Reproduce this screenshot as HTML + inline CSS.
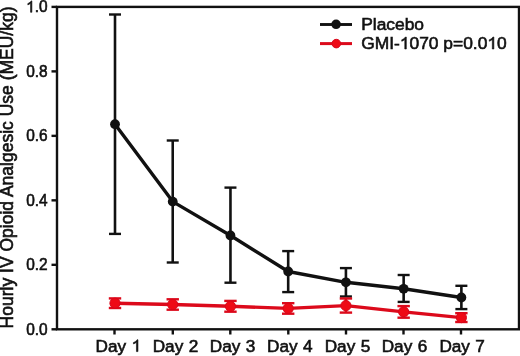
<!DOCTYPE html>
<html><head><meta charset="utf-8"><style>
html,body{margin:0;padding:0;background:#fff;}
svg{display:block;will-change:transform;}
text{font-family:"Liberation Sans",sans-serif;fill:#111;stroke:#111;stroke-width:0.6px;}
.h1{fill:none;stroke:none;}
</style></head><body>
<svg width="520" height="356" viewBox="0 0 520 356">
<rect x="57" y="6.9" width="462" height="322.4" fill="none" stroke="#111" stroke-width="2.4"/>
<line x1="51.5" y1="329.30" x2="57" y2="329.30" stroke="#111" stroke-width="2.4"/>
<text id="t0" font-size="16.6" transform="translate(47.6,334.70) scale(0.93,1)" text-anchor="end">0.0</text>
<line x1="51.5" y1="264.82" x2="57" y2="264.82" stroke="#111" stroke-width="2.4"/>
<text id="t1" font-size="16.6" transform="translate(47.6,270.22) scale(0.93,1)" text-anchor="end">0.2</text>
<line x1="51.5" y1="200.34" x2="57" y2="200.34" stroke="#111" stroke-width="2.4"/>
<text id="t2" font-size="16.6" transform="translate(47.6,205.74) scale(0.93,1)" text-anchor="end">0.4</text>
<line x1="51.5" y1="135.86" x2="57" y2="135.86" stroke="#111" stroke-width="2.4"/>
<text id="t3" font-size="16.6" transform="translate(47.6,141.26) scale(0.93,1)" text-anchor="end">0.6</text>
<line x1="51.5" y1="71.38" x2="57" y2="71.38" stroke="#111" stroke-width="2.4"/>
<text id="t4" font-size="16.6" transform="translate(47.6,76.78) scale(0.93,1)" text-anchor="end">0.8</text>
<line x1="51.5" y1="6.90" x2="57" y2="6.90" stroke="#111" stroke-width="2.4"/>
<text id="t5" font-size="16.6" transform="translate(47.6,12.30) scale(0.93,1)" text-anchor="end"><tspan class="h1">1</tspan>.0</text>
<line x1="114.5" y1="329" x2="114.5" y2="334.5" stroke="#111" stroke-width="2.4"/>
<line x1="172.8" y1="329" x2="172.8" y2="334.5" stroke="#111" stroke-width="2.4"/>
<line x1="230.3" y1="329" x2="230.3" y2="334.5" stroke="#111" stroke-width="2.4"/>
<line x1="288.3" y1="329" x2="288.3" y2="334.5" stroke="#111" stroke-width="2.4"/>
<line x1="346.0" y1="329" x2="346.0" y2="334.5" stroke="#111" stroke-width="2.4"/>
<line x1="403.5" y1="329" x2="403.5" y2="334.5" stroke="#111" stroke-width="2.4"/>
<line x1="461.0" y1="329" x2="461.0" y2="334.5" stroke="#111" stroke-width="2.4"/>
<text id="t6" font-size="17.2" x="95.60" y="351.6" word-spacing="0.6">Day <tspan class="h1">1</tspan></text>
<text id="t7" font-size="17.2" x="152.70" y="351.6" word-spacing="0.6">Day 2</text>
<text id="t8" font-size="17.2" x="209.80" y="351.6" word-spacing="0.6">Day 3</text>
<text id="t9" font-size="17.2" x="267.00" y="351.6" word-spacing="0.6">Day 4</text>
<text id="t10" font-size="17.2" x="324.70" y="351.6" word-spacing="0.6">Day 5</text>
<text id="t11" font-size="17.2" x="381.70" y="351.6" word-spacing="0.6">Day 6</text>
<text id="t12" font-size="17.2" x="439.40" y="351.6" word-spacing="0.6">Day 7</text>
<text id="t13" font-size="17.5" transform="translate(12.6,328.4) rotate(-90)">Hourly IV Opioid Analgesic Use (MEU/kg)</text>
<polyline points="115.00,124.20 172.73,201.60 230.46,235.50 288.19,271.50 345.92,282.30 403.65,288.80 461.38,297.50" fill="none" stroke="#111" stroke-width="3.4" stroke-linejoin="round"/>
<line x1="115.00" y1="14.50" x2="115.00" y2="233.90" stroke="#111" stroke-width="2.6"/>
<line x1="109.00" y1="14.50" x2="121.00" y2="14.50" stroke="#111" stroke-width="2.4"/>
<line x1="109.00" y1="233.90" x2="121.00" y2="233.90" stroke="#111" stroke-width="2.4"/>
<circle cx="115.00" cy="124.20" r="4.9" fill="#111"/>
<line x1="172.73" y1="140.50" x2="172.73" y2="262.50" stroke="#111" stroke-width="2.6"/>
<line x1="166.73" y1="140.50" x2="178.73" y2="140.50" stroke="#111" stroke-width="2.4"/>
<line x1="166.73" y1="262.50" x2="178.73" y2="262.50" stroke="#111" stroke-width="2.4"/>
<circle cx="172.73" cy="201.60" r="4.9" fill="#111"/>
<line x1="230.46" y1="187.60" x2="230.46" y2="282.70" stroke="#111" stroke-width="2.6"/>
<line x1="224.46" y1="187.60" x2="236.46" y2="187.60" stroke="#111" stroke-width="2.4"/>
<line x1="224.46" y1="282.70" x2="236.46" y2="282.70" stroke="#111" stroke-width="2.4"/>
<circle cx="230.46" cy="235.50" r="4.9" fill="#111"/>
<line x1="288.19" y1="251.10" x2="288.19" y2="292.10" stroke="#111" stroke-width="2.6"/>
<line x1="282.19" y1="251.10" x2="294.19" y2="251.10" stroke="#111" stroke-width="2.4"/>
<line x1="282.19" y1="292.10" x2="294.19" y2="292.10" stroke="#111" stroke-width="2.4"/>
<circle cx="288.19" cy="271.50" r="4.9" fill="#111"/>
<line x1="345.92" y1="268.10" x2="345.92" y2="296.50" stroke="#111" stroke-width="2.6"/>
<line x1="339.92" y1="268.10" x2="351.92" y2="268.10" stroke="#111" stroke-width="2.4"/>
<line x1="339.92" y1="296.50" x2="351.92" y2="296.50" stroke="#111" stroke-width="2.4"/>
<circle cx="345.92" cy="282.30" r="4.9" fill="#111"/>
<line x1="403.65" y1="275.00" x2="403.65" y2="301.90" stroke="#111" stroke-width="2.6"/>
<line x1="397.65" y1="275.00" x2="409.65" y2="275.00" stroke="#111" stroke-width="2.4"/>
<line x1="397.65" y1="301.90" x2="409.65" y2="301.90" stroke="#111" stroke-width="2.4"/>
<circle cx="403.65" cy="288.80" r="4.9" fill="#111"/>
<line x1="461.38" y1="285.80" x2="461.38" y2="309.10" stroke="#111" stroke-width="2.6"/>
<line x1="455.38" y1="285.80" x2="467.38" y2="285.80" stroke="#111" stroke-width="2.4"/>
<line x1="455.38" y1="309.10" x2="467.38" y2="309.10" stroke="#111" stroke-width="2.4"/>
<circle cx="461.38" cy="297.50" r="4.9" fill="#111"/>
<polyline points="115.00,303.20 172.73,304.50 230.46,306.30 288.19,308.40 345.92,305.60 403.65,311.90 461.38,317.60" fill="none" stroke="#dc0a1b" stroke-width="3.4" stroke-linejoin="round"/>
<line x1="115.00" y1="298.40" x2="115.00" y2="308.00" stroke="#dc0a1b" stroke-width="2.6"/>
<line x1="108.80" y1="298.40" x2="121.20" y2="298.40" stroke="#dc0a1b" stroke-width="2.4"/>
<line x1="108.80" y1="308.00" x2="121.20" y2="308.00" stroke="#dc0a1b" stroke-width="2.4"/>
<circle cx="115.00" cy="303.20" r="5.1" fill="#ee0a16" stroke="#d8061a" stroke-width="1"/>
<line x1="172.73" y1="299.30" x2="172.73" y2="309.70" stroke="#dc0a1b" stroke-width="2.6"/>
<line x1="166.53" y1="299.30" x2="178.93" y2="299.30" stroke="#dc0a1b" stroke-width="2.4"/>
<line x1="166.53" y1="309.70" x2="178.93" y2="309.70" stroke="#dc0a1b" stroke-width="2.4"/>
<circle cx="172.73" cy="304.50" r="5.1" fill="#ee0a16" stroke="#d8061a" stroke-width="1"/>
<line x1="230.46" y1="300.90" x2="230.46" y2="311.70" stroke="#dc0a1b" stroke-width="2.6"/>
<line x1="224.26" y1="300.90" x2="236.66" y2="300.90" stroke="#dc0a1b" stroke-width="2.4"/>
<line x1="224.26" y1="311.70" x2="236.66" y2="311.70" stroke="#dc0a1b" stroke-width="2.4"/>
<circle cx="230.46" cy="306.30" r="5.1" fill="#ee0a16" stroke="#d8061a" stroke-width="1"/>
<line x1="288.19" y1="303.20" x2="288.19" y2="313.70" stroke="#dc0a1b" stroke-width="2.6"/>
<line x1="281.99" y1="303.20" x2="294.39" y2="303.20" stroke="#dc0a1b" stroke-width="2.4"/>
<line x1="281.99" y1="313.70" x2="294.39" y2="313.70" stroke="#dc0a1b" stroke-width="2.4"/>
<circle cx="288.19" cy="308.40" r="5.1" fill="#ee0a16" stroke="#d8061a" stroke-width="1"/>
<line x1="345.92" y1="298.50" x2="345.92" y2="312.60" stroke="#dc0a1b" stroke-width="2.6"/>
<line x1="339.72" y1="298.50" x2="352.12" y2="298.50" stroke="#dc0a1b" stroke-width="2.4"/>
<line x1="339.72" y1="312.60" x2="352.12" y2="312.60" stroke="#dc0a1b" stroke-width="2.4"/>
<circle cx="345.92" cy="305.60" r="5.1" fill="#ee0a16" stroke="#d8061a" stroke-width="1"/>
<line x1="403.65" y1="306.10" x2="403.65" y2="317.70" stroke="#dc0a1b" stroke-width="2.6"/>
<line x1="397.45" y1="306.10" x2="409.85" y2="306.10" stroke="#dc0a1b" stroke-width="2.4"/>
<line x1="397.45" y1="317.70" x2="409.85" y2="317.70" stroke="#dc0a1b" stroke-width="2.4"/>
<circle cx="403.65" cy="311.90" r="5.1" fill="#ee0a16" stroke="#d8061a" stroke-width="1"/>
<line x1="461.38" y1="313.20" x2="461.38" y2="322.00" stroke="#dc0a1b" stroke-width="2.6"/>
<line x1="455.18" y1="313.20" x2="467.58" y2="313.20" stroke="#dc0a1b" stroke-width="2.4"/>
<line x1="455.18" y1="322.00" x2="467.58" y2="322.00" stroke="#dc0a1b" stroke-width="2.4"/>
<circle cx="461.38" cy="317.60" r="5.1" fill="#ee0a16" stroke="#d8061a" stroke-width="1"/>
<line x1="320" y1="24.5" x2="352" y2="24.5" stroke="#111" stroke-width="2.9"/>
<circle cx="336.1" cy="24.3" r="4.8" fill="#111"/>
<text id="t14" font-size="17.4" x="361.2" y="29.5">Placebo</text>
<line x1="320" y1="43.6" x2="352" y2="43.6" stroke="#dc0a1b" stroke-width="3"/>
<circle cx="336.3" cy="43.6" r="4.3" fill="#ee0a16" stroke="#d8061a" stroke-width="1"/>
<text id="t15" font-size="17.4" x="361.2" y="49">GMI-<tspan class="h1">1</tspan>070 p=0.0<tspan class="h1">1</tspan>0</text>
<g transform="translate(47.6,12.30) scale(0.93,1)"><path d="M583,0 L763,0 L763,1409 L650,1409 Q610,1320 500,1235 Q380,1150 224,1085 L224,915 Q330,955 420,1005 Q520,1062 583,1110 Z" transform="translate(-23.074,0.000) scale(0.008105,-0.008105)" fill="#111" stroke="#111" stroke-width="74.0"/></g>
<path d="M583,0 L763,0 L763,1409 L650,1409 Q610,1320 500,1235 Q380,1150 224,1085 L224,915 Q330,955 420,1005 Q520,1062 583,1110 Z" transform="translate(131.553,351.600) scale(0.008398,-0.008398)" fill="#111" stroke="#111" stroke-width="71.4"/>
<path d="M583,0 L763,0 L763,1409 L650,1409 Q610,1320 500,1235 Q380,1150 224,1085 L224,915 Q330,955 420,1005 Q520,1062 583,1110 Z" transform="translate(399.841,49.000) scale(0.008496,-0.008496)" fill="#111" stroke="#111" stroke-width="70.6"/>
<path d="M583,0 L763,0 L763,1409 L650,1409 Q610,1320 500,1235 Q380,1150 224,1085 L224,915 Q330,955 420,1005 Q520,1062 583,1110 Z" transform="translate(487.372,49.000) scale(0.008496,-0.008496)" fill="#111" stroke="#111" stroke-width="70.6"/>
</svg>
</body></html>
